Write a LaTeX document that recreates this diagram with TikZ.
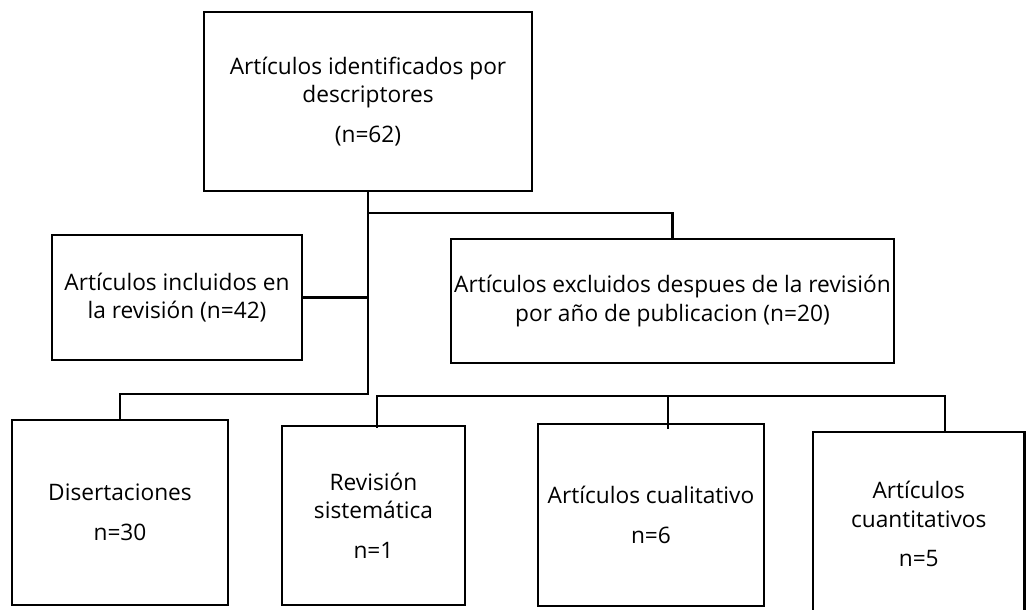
\documentclass[tikz,border=0pt]{standalone}
\usepackage{fontspec}
\setmainfont{Open Sans}
\begin{document}
\begin{tikzpicture}[x=1pt,y=-1pt,
  box/.style={draw, line width=2.6pt, inner sep=0pt, align=center,
    font=\fontsize{22.7}{28.5}\selectfont},
  link/.style={line width=2.6pt}]
\useasboundingbox (0,0) rectangle (1026,610);
\node[box, minimum width=328pt, minimum height=179pt] (top) at (368,101.5)
  {Artículos identificados por\\descriptores\\[11pt](n=62)};
\node[box, minimum width=250pt, minimum height=125pt] (inc) at (177,297.5)
  {Artículos incluidos en\\la revisión (n=42)};
\node[box, minimum width=443pt, minimum height=124pt] (exc) at (672.5,301)
  {Artículos excluidos despues de la revisión\\por año de publicacion (n=20)};
\node[box, minimum width=216pt, minimum height=185pt] (dis) at (120,512.5)
  {Disertaciones\\[11pt]n=30};
\node[box, minimum width=183pt, minimum height=179pt] (rev) at (373.5,515.5)
  {Revisión\\sistemática\\[11pt]n=1};
\node[box, minimum width=226pt, minimum height=182pt] (cual) at (651,515)
  {Artículos cualitativo\\[11pt]n=6};
\node[box, minimum width=211.5pt, minimum height=184pt] (cuan) at (918.75,524)
  {Artículos\\cuantitativos\\[11pt]n=5};
\coordinate (j1) at (368,213);
\coordinate (bus1) at (368,394);
\coordinate (bus2) at (377,396);
\coordinate (c2) at (668,396);
\coordinate (c3) at (945,396);
\draw[link] (top.south) -- (bus1) -| (dis.north);
\draw[link] (j1) -| (exc.north);
\draw[link] (inc.east) -- (inc.east -| top.south);
\draw[link] ([yshift=-3pt]rev.north -| bus2) -- (bus2) -- (c3) -- (c3 |- cuan.north);
\draw[link] (c2) -- ([yshift=-6pt]cual.north -| c2);
\end{tikzpicture}
\end{document}
